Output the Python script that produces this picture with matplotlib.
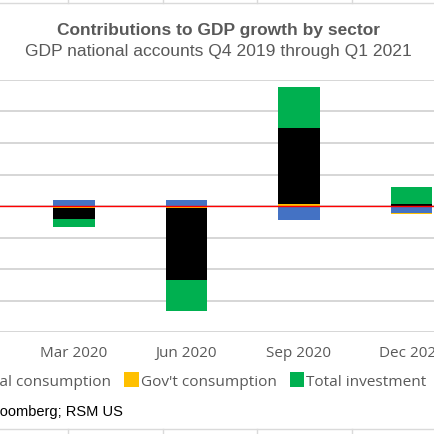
import matplotlib
matplotlib.use('Agg')
import matplotlib.pyplot as plt
from matplotlib.lines import Line2D
import numpy as np

# quarter ends, Q4 2019 .. Q1 2021
quarters = ['Dec 2019', 'Mar 2020', 'Jun 2020', 'Sep 2020', 'Dec 2020', 'Mar 2021']
series = ['Net exports', 'Personal consumption', "Gov't consumption", 'Total investment']
net_exports = [1.5, 1.8, 2.0, -4.6, -2.3, -0.9]
personal_cons = [1.1, -3.5, -22.9, 24.2, 0.6, 7.0]
gov_cons = [0.4, -0.5, -0.6, 0.5, -0.1, 1.0]
investment = [-1.0, -2.8, -9.9, 13.2, 5.5, 1.9]
colors = {'Net exports': '#4472C4', 'Personal consumption': '#000000',
          "Gov't consumption": '#FFC000', 'Total investment': '#00B050'}
data = {'Net exports': net_exports, 'Personal consumption': personal_cons,
        "Gov't consumption": gov_cons, 'Total investment': investment}
stack_order = ['Net exports', "Gov't consumption", 'Personal consumption', 'Total investment']

W = 435.0
fig = plt.figure(figsize=(4.35, 4.35), dpi=100)
# plot area is wider than the visible crop
ax = fig.add_axes([-94.75 / W, (W - 333) / W, 675 / W, 252 / W])

x = np.arange(len(quarters))
pos_base = np.zeros(len(quarters))
neg_base = np.zeros(len(quarters))
handles = {}
for name in stack_order:
    v = np.array(data[name])
    bottom = np.where(v >= 0, pos_base, neg_base)
    b = ax.bar(x, v, width=0.37, bottom=bottom, color=colors[name], linewidth=0,
               zorder=3, label=name)
    handles[name] = b
    pos_base = pos_base + np.where(v >= 0, v, 0)
    neg_base = neg_base + np.where(v < 0, v, 0)

ax.axhline(0, color='#FF0000', lw=1.0, zorder=4)
ax.set_xlim(-0.5, len(quarters) - 0.5)
ax.set_ylim(-40, 40)
ax.set_yticks(np.arange(-40, 41, 10))
ax.yaxis.grid(True, color='#D3D3D3', lw=1.3, zorder=0)
ax.set_axisbelow(True)
for s in ax.spines.values():
    s.set_visible(False)
ax.tick_params(axis='both', length=0)
ax.set_yticklabels([])
ax.set_xticks(x)
ax.set_xticklabels(quarters, fontsize=11, color='#595959', family='Open Sans')
ax.tick_params(axis='x', pad=9.5)

fig.text(219 / W, 1 - 30 / W, 'Contributions to GDP growth by sector', ha='center', va='center',
         fontsize=12.5, fontweight='bold', color='#595959', family='Liberation Sans')
fig.text(218 / W, 1 - 51.7 / W, 'GDP national accounts Q4 2019 through Q1 2021', ha='center',
         va='center', fontsize=12.6, color='#595959', family='Liberation Sans')

fig.legend(handles=[handles[n] for n in series], labels=series, ncol=4, loc='center right',
           bbox_to_anchor=(434 / W, 1 - 381.7 / W), frameon=False, borderpad=0,
           handlelength=0.95, handleheight=1.1, handletextpad=0.12, columnspacing=0.85,
           prop={'family': 'Open Sans', 'size': 11.1}, labelcolor='#595959')

fig.text(123.3 / W, 1 - 411.7 / W, 'Source: Bloomberg; RSM US', ha='right', va='center',
         fontsize=10.55, color='black', family='Liberation Sans')

# spreadsheet cell lines around the chart
cell = '#DADADA'
fig.add_artist(Line2D([0, 1], [1 - 4 / W, 1 - 4 / W], color=cell, lw=1))
fig.add_artist(Line2D([0, 1], [1 - 430 / W, 1 - 430 / W], color=cell, lw=1))
for cx in [68.3, 162.7, 257.3, 351.7]:
    fig.add_artist(Line2D([cx / W, cx / W], [1, 1 - 4 / W], color=cell, lw=1))
    fig.add_artist(Line2D([cx / W, cx / W], [1 - 430 / W, 0], color=cell, lw=1))

fig.savefig('out.png', dpi=100)
